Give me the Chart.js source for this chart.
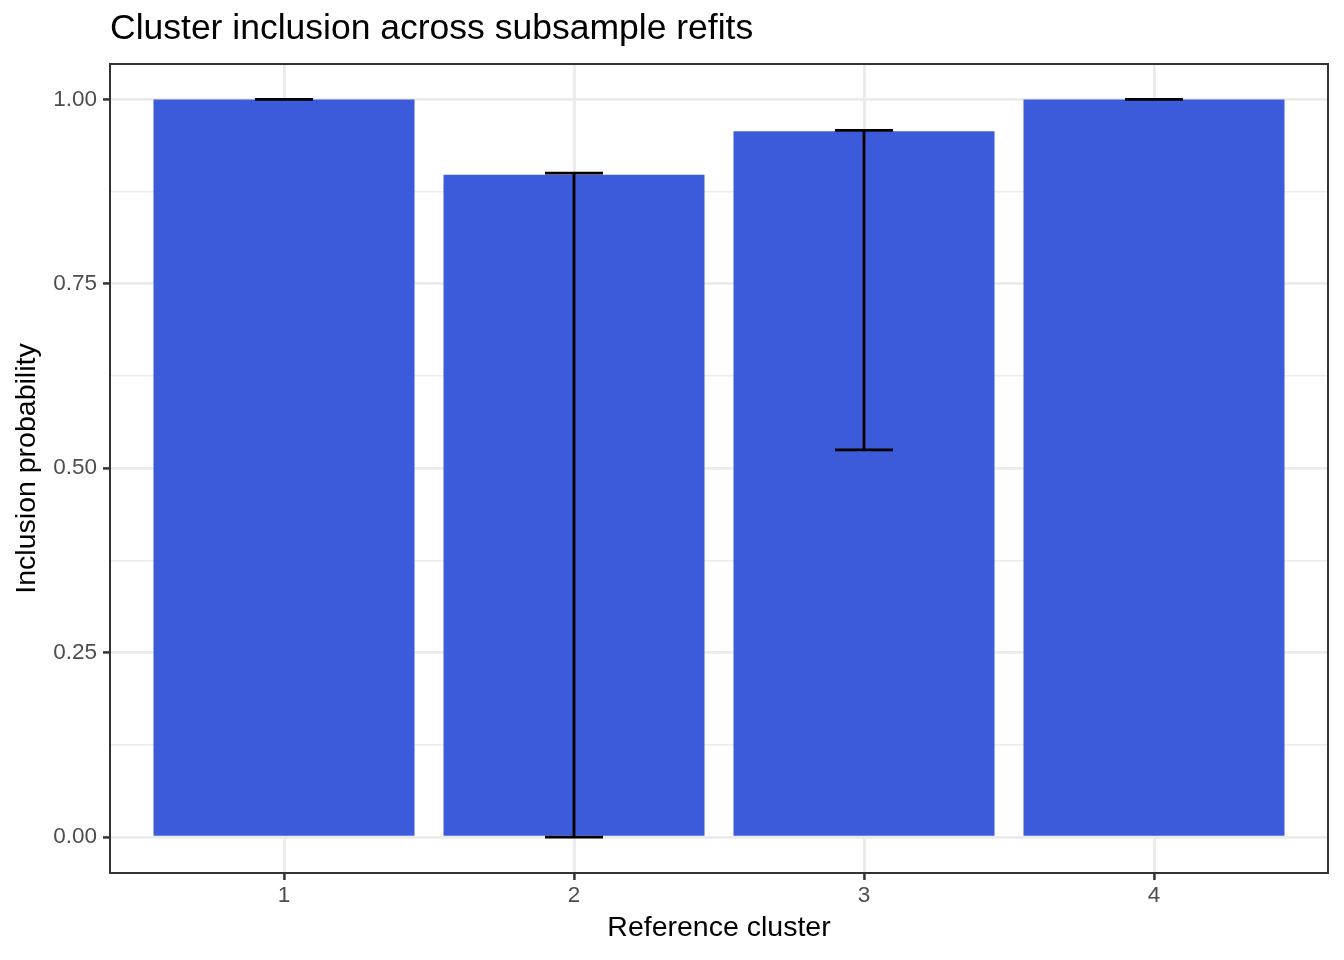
<!DOCTYPE html>
<html>
<head>
<meta charset="utf-8">
<script src="https://cdn.jsdelivr.net/npm/chart.js@4/dist/chart.umd.min.js"></script>
<style>
  html, body { margin: 0; padding: 0; background: #ffffff; }
  canvas { display: block; }
</style>
</head>
<body>
<canvas id="c" width="1344" height="960"></canvas>
<script>
// ---- data ----
const clusters = [1, 2, 3, 4];
const inclusion = [1.0, 0.898, 0.957, 1.0];
const lowerCI = [1.0, 0.0, 0.525, 1.0];
const upperCI = [1.0, 0.9, 0.958, 1.0];
const yMajorTicks = [0, 0.25, 0.5, 0.75, 1.0];
const yMinorTicks = [0.125, 0.375, 0.625, 0.875];

const FONT = "'Liberation Sans', Arial, Helvetica, sans-serif";
const isMajor = v => yMajorTicks.some(m => Math.abs(m - v) < 1e-9);

const errorBarPlugin = {
  id: 'errorBars',
  afterDatasetsDraw(chart) {
    const xs = chart.scales.x, ys = chart.scales.y, ctx = chart.ctx;
    ctx.save();
    ctx.strokeStyle = '#000000';
    ctx.lineWidth = 2.85;
    ctx.lineCap = 'butt';
    for (let i = 0; i < clusters.length; i++) {
      const cx = xs.getPixelForValue(clusters[i]);
      const x0 = xs.getPixelForValue(clusters[i] - 0.1);
      const x1 = xs.getPixelForValue(clusters[i] + 0.1);
      const yl = ys.getPixelForValue(lowerCI[i]);
      const yu = ys.getPixelForValue(upperCI[i]);
      ctx.beginPath();
      ctx.moveTo(x0, yu); ctx.lineTo(x1, yu);
      ctx.moveTo(cx, yu); ctx.lineTo(cx, yl);
      ctx.moveTo(x0, yl); ctx.lineTo(x1, yl);
      ctx.stroke();
    }
    // panel border
    const a = chart.chartArea;
    ctx.strokeStyle = '#333333';
    ctx.lineWidth = 2;
    ctx.strokeRect(a.left, a.top, a.right - a.left, a.bottom - a.top);
    ctx.restore();
  }
};

new Chart(document.getElementById('c'), {
  type: 'bar',
  data: {
    datasets: [{
      data: clusters.map((c, i) => ({ x: c, y: inclusion[i] })),
      backgroundColor: '#3B5BDB',
      borderWidth: 0,
      barPercentage: 0.9,
      categoryPercentage: 1.0
    }]
  },
  options: {
    responsive: false,
    animation: false,
    devicePixelRatio: 1,
    layout: { padding: { left: 0, right: 16, top: 0, bottom: 0 } },
    plugins: {
      legend: { display: false },
      tooltip: { enabled: false },
      title: {
        display: true,
        text: 'Cluster inclusion across subsample refits',
        align: 'start',
        fullSize: false,
        color: '#000000',
        font: { family: FONT, size: 35.5, weight: 'normal', lineHeight: 1.2 },
        padding: { top: 8, bottom: 13.4 }
      }
    },
    scales: {
      x: {
        type: 'linear',
        min: 0.4,
        max: 4.6,
        offset: false,
        afterBuildTicks: s => { s.ticks = clusters.map(v => ({ value: v })); },
        afterFit: s => { s.height = 87; },
        border: { display: false },
        grid: {
          offset: false,
          color: '#EBEBEB',
          lineWidth: 2.85,
          drawTicks: true,
          tickLength: 7,
          tickColor: '#333333',
          tickWidth: 2.5
        },
        ticks: {
          color: '#4D4D4D',
          font: { family: FONT, size: 22.5 },
          padding: 2.5,
          maxRotation: 0,
          callback: v => String(v)
        },
        title: {
          display: true,
          text: 'Reference cluster',
          color: '#000000',
          font: { family: FONT, size: 28.5, lineHeight: 1 },
          padding: { top: 0, bottom: 17.75 }
        }
      },
      y: {
        type: 'linear',
        min: -0.0487,
        max: 1.048,
        afterBuildTicks: s => {
          s.ticks = yMajorTicks.concat(yMinorTicks).sort((a, b) => a - b).map(v => ({ value: v }));
        },
        afterFit: s => { s.width = 110; },
        border: { display: false },
        grid: {
          color: '#EBEBEB',
          lineWidth: ctx => isMajor(ctx.tick.value) ? 2.85 : 1.42,
          drawTicks: true,
          tickLength: 7,
          tickColor: ctx => isMajor(ctx.tick.value) ? '#333333' : 'rgba(0,0,0,0)',
          tickWidth: 2.5
        },
        ticks: {
          color: '#4D4D4D',
          font: { family: FONT, size: 22.5 },
          padding: 6,
          callback: v => isMajor(v) ? v.toFixed(2) : ''
        },
        title: {
          display: true,
          text: 'Inclusion probability',
          color: '#000000',
          font: { family: FONT, size: 28.5, lineHeight: 1 },
          padding: { top: 13, bottom: 0 }
        }
      }
    }
  },
  plugins: [errorBarPlugin]
});
</script>
</body>
</html>
